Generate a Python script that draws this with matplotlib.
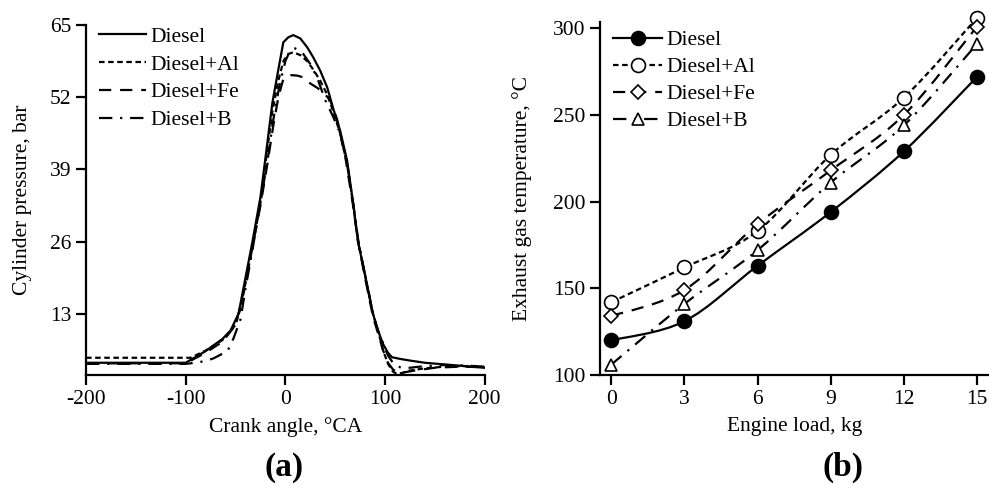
import numpy as np
import matplotlib.pyplot as plt
from matplotlib.path import Path
from matplotlib.patches import PathPatch
from matplotlib.lines import Line2D

plt.rcParams['font.family'] = ['Liberation Serif', 'DejaVu Serif']
plt.rcParams['font.size'] = 15.5
plt.rcParams['axes.unicode_minus'] = False

# (a) cylinder pressure vs crank angle
ca_diesel = [-200, -150, -100, -80, -63, -55, -47, -40, -33, -25, -20, -13, -7, -2, 3, 8, 15, 22, 28, 35,
             42, 48, 55, 62, 68, 73, 80, 88, 93, 98, 103, 107, 115, 125, 140, 160, 180, 200]
p_diesel = [4.2, 4.2, 4.2, 6.3, 8.5, 10, 13, 19.5, 26, 34, 41, 51, 57, 61.9, 62.8, 63.2, 62.6, 61, 59.2, 56.8,
            53.8, 50, 46, 40.6, 33, 26, 20, 13, 10, 7.6, 6, 5.2, 4.9, 4.6, 4.2, 3.9, 3.6, 3.3]

ca_al = [-200, -150, -100, -95, -80, -63, -50, -45, -40, -33, -25, -20, -13, -7, -2, 3, 8, 15, 22, 28, 35,
         42, 48, 55, 62, 68, 73, 80, 88, 93, 98, 103, 108, 112, 118, 125, 140, 160, 180, 200]
p_al = [5.1, 5.1, 5.1, 5.1, 6.4, 8.3, 11, 14, 18.5, 25, 33, 40, 49.5, 55, 58.5, 59.8, 60.1, 59.6, 58.5, 57, 55,
        52.5, 49.5, 45.5, 40, 33, 26, 20, 13, 10, 6.5, 4, 2.6, 2.2, 2.4, 2.8, 3.2, 3.5, 3.6, 3.4]

ca_fe = [-200, -150, -100, -80, -63, -52, -47, -40, -33, -25, -18, -12, -7, -2, 5, 12, 18, 25, 32, 38, 45,
         52, 60, 68, 73, 80, 88, 93, 98, 103, 108, 113, 120, 130, 150, 175, 200]
p_fe = [4.1, 4.1, 4.1, 6.0, 8.0, 10.5, 13, 18.5, 25, 32.5, 40, 47, 52, 55.3, 56, 55.9, 55.6, 54.5, 53.7, 52.9, 51.5,
        48, 41.5, 32.5, 26, 19.5, 12.5, 9.5, 6.5, 4.2, 3, 2.4, 2.5, 2.8, 3.3, 3.5, 3.4]

ca_b = [-200, -150, -100, -95, -80, -72, -58, -52, -45, -40, -33, -25, -18, -12, -6, 0, 5, 10, 18, 25, 32,
        40, 48, 55, 62, 68, 73, 80, 88, 93, 98, 103, 108, 115, 125, 140, 160, 180, 200]
p_b = [4.0, 4.0, 4.0, 4.1, 4.5, 5.0, 6.3, 8.6, 12, 17.5, 24.5, 33, 40.5, 48, 54, 58.5, 60.5, 60.8, 59.8, 58, 55.5,
       51.5, 48.5, 45.5, 40, 33, 26.5, 20, 13, 10, 7.8, 5.5, 4.2, 3.4, 3.3, 3.6, 3.8, 3.7, 3.5]

# (b) exhaust gas temperature vs engine load
load = [0, 3, 6, 9, 12, 15]
egt_diesel = [120, 131, 163, 194, 229, 272]
egt_al = [142, 162, 183, 227, 260, 306]
egt_fe = [134, 149, 187, 218, 250, 301]
egt_b = [106, 141, 172, 211, 244, 291]

labels = ['Diesel', 'Diesel+Al', 'Diesel+Fe', 'Diesel+B']
styles = ['-', (0, (2.5, 1.6)), (0, (5.5, 4)), (0, (6, 3.5, 1, 3.5))]


def smooth_path(x, y):
    # Catmull-Rom segments turned into cubic Bezier pieces
    pts = np.column_stack([x, y]).astype(float)
    ext = np.vstack([pts[0], pts, pts[-1]])
    verts = [pts[0]]
    codes = [Path.MOVETO]
    for i in range(1, len(ext) - 2):
        p0, p1, p2, p3 = ext[i - 1], ext[i], ext[i + 1], ext[i + 2]
        verts += [p1 + (p2 - p0) / 6, p2 - (p3 - p1) / 6, p2]
        codes += [Path.CURVE4] * 3
    return Path(verts, codes)


def style_axes(ax):
    for s in ['top', 'right']:
        ax.spines[s].set_visible(False)
    for s in ['left', 'bottom']:
        ax.spines[s].set_linewidth(1.6)
    ax.tick_params(direction='out', length=7, width=1.6, pad=3.5)


fig = plt.figure(figsize=(9.89, 4.88), dpi=100)

ax1 = fig.add_axes([0.087, 0.2316, 0.403, 0.717])
ax1.plot(ca_diesel, p_diesel, color='k', lw=1.6, linestyle=styles[0], label=labels[0])
ax1.plot(ca_al, p_al, color='k', lw=1.6, linestyle=styles[1], label=labels[1])
ax1.plot(ca_fe, p_fe, color='k', lw=1.6, linestyle=styles[2], label=labels[2])
ax1.plot(ca_b, p_b, color='k', lw=1.6, linestyle=styles[3], label=labels[3])
ax1.set_xlim(-200, 200)
ax1.set_ylim(2, 65)
ax1.set_xticks([-200, -100, 0, 100, 200])
ax1.set_yticks([13, 26, 39, 52, 65])
style_axes(ax1)
ax1.set_xlabel('Crank angle, °CA', labelpad=6)
ax1.set_ylabel('Cylinder pressure, bar')
ax1.yaxis.set_label_coords(-0.135, 0.5)
ax1.legend(loc='upper left', bbox_to_anchor=(0.01, 1.02), frameon=False, handlelength=2.2,
           handletextpad=0.2, labelspacing=0.36, borderaxespad=0)

ax2 = fig.add_axes([0.607, 0.2316, 0.392, 0.724])
series = [egt_diesel, egt_al, egt_fe, egt_b]
markers = ['o', 'o', 'D', '^']
msizes = [10, 10, 7, 9]
faces = ['k', 'w', 'w', 'w']
handles = []
for vals, ls, mk, ms, fc, lab in zip(series, styles, markers, msizes, faces, labels):
    ax2.add_patch(PathPatch(smooth_path(load, vals), fill=False, edgecolor='k', lw=1.6, linestyle=ls))
    ax2.plot(load, vals, linestyle='none', marker=mk, ms=ms, mfc=fc, mec='k', mew=1.2, clip_on=False, zorder=3)
    handles.append(Line2D([], [], color='k', lw=1.6, linestyle=ls, marker=mk, ms=ms, mfc=fc, mec='k', mew=1.2))
ax2.set_xlim(-0.45, 15.45)
ax2.set_ylim(100, 303.8)
ax2.set_xticks(load)
ax2.set_yticks([100, 150, 200, 250, 300])
style_axes(ax2)
ax2.set_xlabel('Engine load, kg', labelpad=6)
ax2.set_ylabel('Exhaust gas temperature, °C')
ax2.yaxis.set_label_coords(-0.175, 0.5)
ax2.legend(handles, labels, loc='upper left', bbox_to_anchor=(0.01, 1.0), frameon=False, handlelength=2.3,
           handletextpad=0.2, labelspacing=0.32, borderaxespad=0)

fig.text(0.287, 0.043, '(a)', ha='center', va='center', fontsize=24, fontweight='bold')
fig.text(0.852, 0.043, '(b)', ha='center', va='center', fontsize=24, fontweight='bold')

fig.savefig('out.png', dpi=100)
